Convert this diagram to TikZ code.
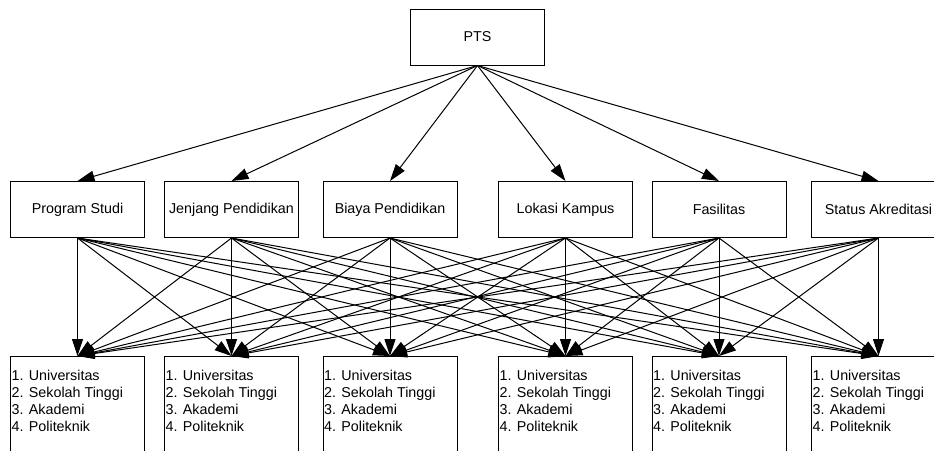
\documentclass[tikz,border=0pt]{standalone}
\usepackage{fontspec}
\setmainfont{Liberation Sans}
\usetikzlibrary{arrows.meta}

\begin{document}
\begin{tikzpicture}[x=1pt,y=-1pt,
	every node/.style={font=\fontsize{14.3}{17}\selectfont},
	box/.style={draw,line width=1pt,minimum width=134pt,minimum height=56pt,inner sep=0pt},
	lowbox/.style={draw,line width=1pt,minimum width=134pt,minimum height=110pt,anchor=north,inner sep=0pt},
	list/.style={anchor=north west,align=left,inner xsep=1.5pt,inner ysep=0pt},
	link/.style={line width=1pt,-{Triangle[length=17pt,width=11pt]}}]
	\useasboundingbox (0,0) rectangle (934,450);
	\node[box] (pts) at (477.5,37) {PTS};
	\foreach \n/\x/\t in {1/77.5/Program Studi,2/231.5/Jenjang Pendidikan,3/390/Biaya Pendidikan,4/565.5/Lokasi Kampus,5/719/Fasilitas,6/878.5/Status Akreditasi}{
		\node[box] (k\n) at (\x,209.5) {\t};
		\node[lowbox] (b\n) at (\x,356) {};
		\node[list,yshift=-14pt] (t\n) at (b\n.north west) {1. Universitas\\2. Sekolah Tinggi\\3. Akademi\\4. Politeknik};
	}
	\foreach \i in {1,...,6}{\draw[link] (pts.south) -- (k\i.north);}
	\foreach \i in {1,...,6}{\foreach \j in {1,...,6}{\draw[link] (k\i.south) -- (b\j.north);}}
\end{tikzpicture}
\end{document}
